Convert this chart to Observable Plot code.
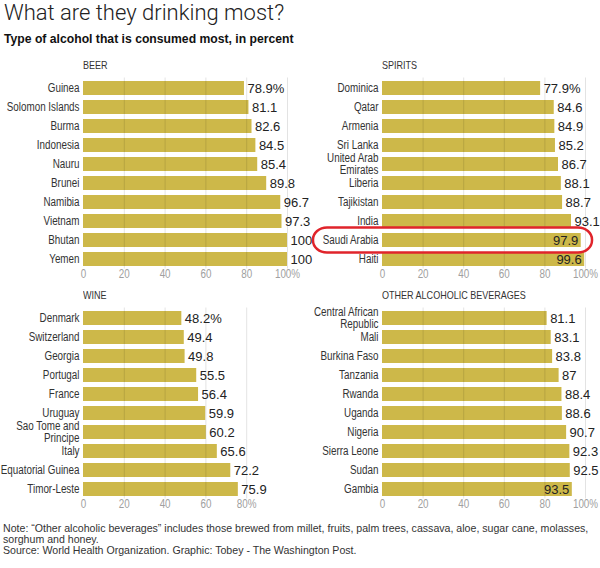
<!DOCTYPE html>
<html><head><meta charset="utf-8">
<script src="https://cdn.jsdelivr.net/npm/d3@7"></script>
<script src="https://cdn.jsdelivr.net/npm/@observablehq/plot@0.6"></script>
<style>
body{margin:0;background:#fff;}
#wrap{position:relative;width:600px;height:568px;overflow:hidden;background:#fff;font-family:"Liberation Sans Narrow","Liberation Sans",Arial,sans-serif;color:#222;}
.title{position:absolute;left:4px;top:0px;font-family:Roboto,sans-serif;font-weight:300;font-size:22px;color:#222;white-space:nowrap;}
.narrow{font-family:"Liberation Sans Narrow","Liberation Sans",Arial,sans-serif;transform-origin:0 50%;}
.sub{position:absolute;left:4px;top:32px;font-family:"Liberation Sans",Arial,sans-serif;font-weight:bold;font-size:12.2px;color:#111;white-space:nowrap;}
.hdr{position:absolute;font-size:11px;color:#333;white-space:nowrap;}
.panel{position:absolute;}
.panel svg{overflow:visible;background:transparent !important;}
.note{position:absolute;left:3px;font-family:"Liberation Sans",Arial,sans-serif;font-size:10.6px;color:#333;line-height:11px;white-space:nowrap;}
</style>
</head><body>
<div id="wrap">
  <div class="title">What are they drinking most?</div>
  <div class="sub">Type of alcohol that is consumed most, in percent</div>
</div>
<script>
const beerCountries = ["Guinea","Solomon Islands","Burma","Indonesia","Nauru","Brunei","Namibia","Vietnam","Bhutan","Yemen"];
const beerValues = [78.9,81.1,82.6,84.5,85.4,89.8,96.7,97.3,100,100];
const spiritsCountries = ["Dominica","Qatar","Armenia","Sri Lanka","United Arab\nEmirates","Liberia","Tajikistan","India","Saudi Arabia","Haiti"];
const spiritsValues = [77.9,84.6,84.9,85.2,86.7,88.1,88.7,93.1,97.9,99.6];
const wineCountries = ["Denmark","Switzerland","Georgia","Portugal","France","Uruguay","Sao Tome and\nPrincipe","Italy","Equatorial Guinea","Timor-Leste"];
const wineValues = [48.2,49.4,49.8,55.5,56.4,59.9,60.2,65.6,72.2,75.9];
const otherCountries = ["Central African\nRepublic","Mali","Burkina Faso","Tanzania","Rwanda","Uganda","Nigeria","Sierra Leone","Sudan","Gambia"];
const otherValues = [81.1,83.1,83.8,87,88.4,88.6,90.7,92.3,92.5,93.5];
const fullTicks = [0,20,40,60,80,100];
const wineTicks = [0,20,40,60,80];
const panelTitles = ["BEER","SPIRITS","WINE","OTHER ALCOHOLIC BEVERAGES"];
const percentOnFirst = [true, true, true, false];
const highlightCountry = "Saudi Arabia";
const noteLines = ["Note: \u201cOther alcoholic beverages\u201d includes those brewed from millet, fruits, palm trees, cassava, aloe, sugar cane, molasses,","sorghum and honey."];
const sourceLine = "Source: World Health Organization. Graphic: Tobey - The Washington Post.";

const BAR = "#cdb849";
const NARROW = "Liberation Sans Narrow, Liberation Sans, Arial, sans-serif";
const wrap = document.getElementById("wrap");

// is a real narrow face installed? if not, condense the regular face
function hasFont(name) {
  const c = document.createElement("canvas").getContext("2d");
  const s = "Solomon Islands mmmwwwiii 0123";
  c.font = "40px monospace"; const w1 = c.measureText(s).width;
  c.font = `40px "${name}", monospace`; const w2 = c.measureText(s).width;
  return Math.abs(w1 - w2) > 0.5;
}
const haveNarrow = hasFont("Liberation Sans Narrow");
const SQUEEZE = haveNarrow ? 1 : 0.82;

function condense(svg) {
  if (haveNarrow) return;
  svg.querySelectorAll("g[font-family]").forEach(g => {
    if (!g.getAttribute("font-family").includes("Narrow")) return;
    g.querySelectorAll("text").forEach(t => {
      const spans = t.querySelectorAll("tspan");
      const els = spans.length ? Array.from(spans) : [t];
      els.forEach(el => {
        const L = el.getComputedTextLength();
        if (L > 0) { el.setAttribute("textLength", L * SQUEEZE); el.setAttribute("lengthAdjust", "spacingAndGlyphs"); }
      });
    });
  });
}

function panel(k, countries, values, ticks, left, top, rightCol) {
  const data = countries.map((c, i) => ({country: c, value: values[i],
    label: (i === 0 && percentOnFirst[k] ? values[i] + "%" : String(values[i])),
    inside: rightCol && values[i] > 93.2}));
  const ml = rightCol ? 82 : 83, mr = rightCol ? 15 : 13;
  const maxT = ticks[ticks.length - 1];
  const plot = Plot.plot({
    width: 300, height: 230,
    marginLeft: ml, marginRight: mr, marginTop: 19.5, marginBottom: 19.5,
    style: {background: "transparent", overflow: "visible"},
    x: {domain: [0, 100], axis: null},
    y: {domain: countries, axis: null, paddingInner: 0.28, paddingOuter: 0.14},
    marks: [
      Plot.barX(data, {y: "country", x: "value", fill: BAR}),
      Plot.ruleX(ticks.filter(t => t > 0), {stroke: "#000", strokeOpacity: 0.11}),
      Plot.text(data, {y: "country", x: 0, text: "country", textAnchor: "end", dx: -4,
        fontSize: 12, fill: "#333", lineHeight: 0.96, fontFamily: NARROW}),
      Plot.text(data.filter(d => !d.inside), {y: "country", x: "value", text: "label", textAnchor: "start", dx: 3,
        fontSize: 13, fill: "#222", fontFamily: "Liberation Sans, Arial, sans-serif"}),
      Plot.text(data.filter(d => d.inside), {y: "country", x: "value", text: "label", textAnchor: "end", dx: -3,
        fontSize: 13, fill: "#222", fontFamily: "Liberation Sans, Arial, sans-serif"}),
      Plot.text(ticks, {x: d => d, text: d => d === maxT ? d + "%" : String(d), frameAnchor: "bottom", dy: 9,
        fontSize: 12, fill: "#a0a0a0", fontFamily: NARROW})
    ]
  });
  const div = document.createElement("div");
  div.className = "panel";
  div.style.left = left + "px";
  div.style.top = top + "px";
  div.appendChild(plot);
  wrap.appendChild(div);
  condense(plot);
  const h = document.createElement("div");
  h.className = "hdr narrow";
  h.textContent = panelTitles[k];
  h.style.left = (left + ml) + "px";
  h.style.top = (top + 1) + "px";
  if (!haveNarrow) h.style.transform = `scaleX(${SQUEEZE})`;
  wrap.appendChild(h);
  return {plot, ml};
}

panel(0, beerCountries, beerValues, fullTicks, 0, 58, false);
const sp = panel(1, spiritsCountries, spiritsValues, fullTicks, 300, 58, true);
panel(2, wineCountries, wineValues, wineTicks, 0, 288, false);
panel(3, otherCountries, otherValues, fullTicks, 300, 288, true);

// highlight box around Saudi Arabia, positioned from the plot's own scales
{
  const sy = sp.plot.scale("y"), sx = sp.plot.scale("x");
  const cy = sy.apply(highlightCountry) + sy.bandwidth / 2;
  const x1 = sp.ml - 69, x2 = sx.apply(100) + 7;
  d3.select(sp.plot).append("rect")
    .attr("x", x1).attr("y", cy - 12.5)
    .attr("width", x2 - x1).attr("height", 25)
    .attr("rx", 14).attr("ry", 12)
    .attr("fill", "none").attr("stroke", "#e0242b").attr("stroke-width", 2.5);
}

function note(t, top) {
  const n = document.createElement("div");
  n.className = "note"; n.textContent = t; n.style.top = top + "px";
  wrap.appendChild(n);
}
noteLines.forEach((t, i) => note(t, 523 + i * 11));
note(sourceLine, 545);
</script>
</body></html>
